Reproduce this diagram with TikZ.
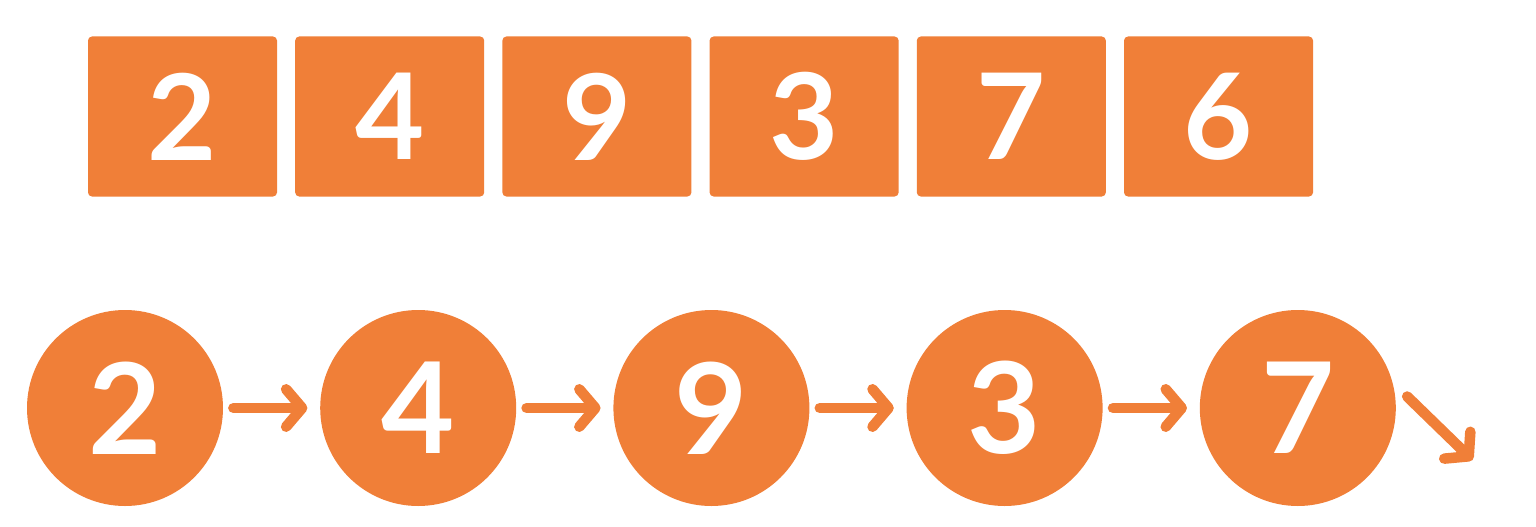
\documentclass[tikz,border=0pt]{standalone}
\usepackage{fontspec}
\setmainfont{Lato}
\usetikzlibrary{positioning,arrows.meta}
\definecolor{carrot}{HTML}{F07F38}
\begin{document}
\begin{tikzpicture}[
    cell/.style={fill=carrot,rounded corners=0.08cm,minimum width=3.78cm,minimum height=3.2cm,
        inner sep=0pt,text=white,font=\bfseries\fontsize{68}{68}\selectfont},
    link/.style={circle,fill=carrot,minimum size=3.92cm,inner sep=0pt,text=white,
        font=\bfseries\fontsize{72}{72}\selectfont},
    pointer/.style={draw=carrot,line width=0.21cm,line cap=round,
        -{Straight Barb[length=0.32cm,width=0.75cm,line cap=round,line join=round]},
        shorten <=0.2cm,shorten >=0.25cm}
]
\useasboundingbox (0,0) rectangle (30.72,-10.54);
 % the array
 \node[cell] (a1) at (3.65,-2.33) {2};
 \node[cell,right=0.35cm of a1] (a2) {4};
 \node[cell,right=0.35cm of a2] (a3) {9};
 \node[cell,right=0.35cm of a3] (a4) {3};
 \node[cell,right=0.35cm of a4] (a5) {7};
 \node[cell,right=0.35cm of a5] (a6) {6};
 % the list
 \node[link] (l1) at (2.5,-8.16) {2};
 \node[link,right=1.93cm of l1] (l2) {4};
 \node[link,right=1.93cm of l2] (l3) {9};
 \node[link,right=1.93cm of l3] (l4) {3};
 \node[link,right=1.93cm of l4] (l5) {7};
 \coordinate (nil) at (29.45,-9.2);
 \draw[pointer] (l1) -- (l2);
 \draw[pointer] (l2) -- (l3);
 \draw[pointer] (l3) -- (l4);
 \draw[pointer] (l4) -- (l5);
 \draw[pointer,shorten <=0.4cm,shorten >=0cm] (l5.15) -- (nil);
\end{tikzpicture}
\end{document}
